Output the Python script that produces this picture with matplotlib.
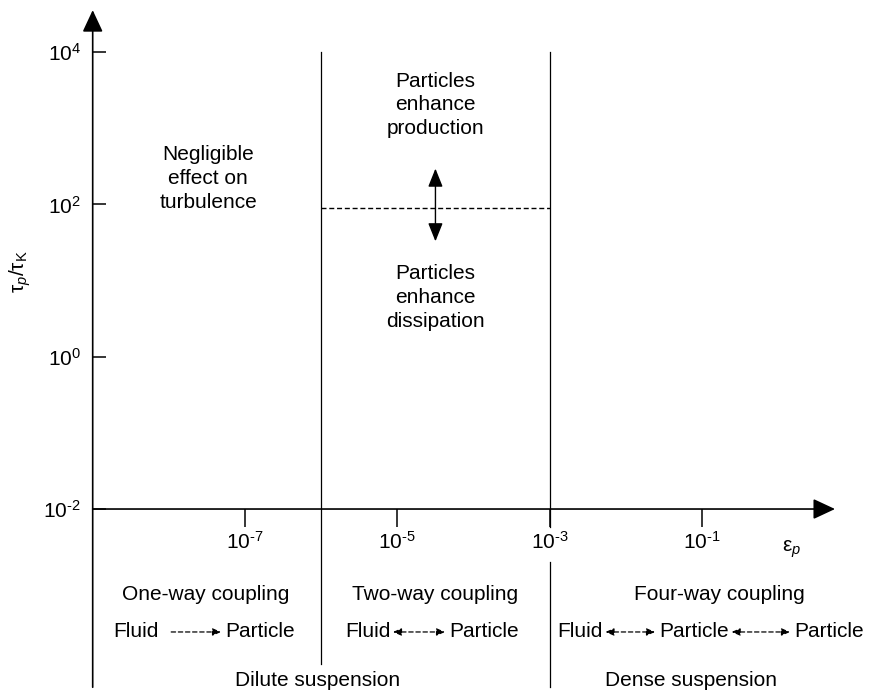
import numpy as np
import matplotlib.pyplot as plt

plt.rcParams['font.family'] = ['Liberation Sans', 'DejaVu Sans']
plt.rcParams['mathtext.fontset'] = 'custom'
plt.rcParams['mathtext.rm'] = 'Liberation Sans'
plt.rcParams['mathtext.it'] = 'Liberation Sans:italic'
plt.rcParams['mathtext.default'] = 'regular'

FS = 15

# everything below is log10 of (eps_p, tau_p/tau_K)
x_lim = (-10.217, 1.376)
y_lim = (-4.468, 4.683)
x_axis = (-9.0, 0.746)      # x axis runs along tau_p/tau_K = 1e-2
y_axis = (-4.34, 4.55)      # y axis runs along eps_p = 1e-9
x_axis_at = -2.0
y_axis_at = -9.0

x_ticks = [-7, -5, -3, -1]
y_ticks = [4, 2, 0, -2]

# regime boundaries: (x, y_top, y_bottom)
boundaries = [(-6, 4, -4.03), (-3, 4, -2.23), (-3, -2.70, -4.34)]

# dashed split in the two-way region and the arrow across it
split_y = 1.954
split_x = (-6, -3)
arrow_x = -4.5
arrow_y = (1.514, 2.47)

region_labels = ["Negligible\neffect on\nturbulence",
                 "Particles\nenhance\nproduction",
                 "Particles\nenhance\ndissipation"]
region_x = [-7.486, -4.5, -4.5]
region_y = [2.34, 3.306, 0.779]

coupling_labels = ["One-way coupling", "Two-way coupling", "Four-way coupling"]
coupling_x = [-7.52, -4.5, -0.77]
coupling_y = -3.188

row_words = [["Fluid", "Particle"], ["Fluid", "Particle"],
             ["Fluid", "Particle", "Particle"]]
row_x = [[-8.431, -6.803], [-5.392, -3.862], [-2.602, -1.105, 0.667]]
row_two_way = [False, True, True]
row_y = -3.674

suspension_labels = ["Dilute suspension", "Dense suspension"]
suspension_x = [-6.05, -1.145]
suspension_y = -4.32

p = lambda v: 10.0 ** np.asarray(v)


def exp_label(t):
    # the original uses a short hyphen in the exponent
    s = str(t).replace('-', '\u2010')
    return '$10^{%s}$' % s


fig = plt.figure(figsize=(8.83, 6.97), dpi=100)
ax = fig.add_axes([0, 0, 1, 1])
ax.set_xscale('log')
ax.set_yscale('log')
ax.set_xlim(p(x_lim[0]), p(x_lim[1]))
ax.set_ylim(p(y_lim[0]), p(y_lim[1]))

for s in ax.spines.values():
    s.set_visible(False)
ax.spines['left'].set_position(('data', p(y_axis_at)))
ax.spines['bottom'].set_position(('data', p(x_axis_at)))

ax.set_xticks(p(x_ticks))
ax.set_xticklabels([exp_label(t) for t in x_ticks])
ax.set_yticks(p(y_ticks))
ax.set_yticklabels([exp_label(t) for t in y_ticks])
ax.minorticks_off()
ax.tick_params(axis='x', direction='out', length=13, width=1.1, pad=3,
               labelsize=FS)
ax.tick_params(axis='y', direction='in', length=9.5, width=1.1, pad=8.5,
               labelsize=FS)

# axes with arrow heads
head = '-|>,head_length=0.9,head_width=0.42'
ax.annotate('', xy=(p(x_axis[1]), p(x_axis_at)), xytext=(p(x_axis[0]), p(x_axis_at)),
            arrowprops=dict(arrowstyle=head, lw=1.2, color='k',
                            shrinkA=0, shrinkB=0, mutation_scale=15))
ax.annotate('', xy=(p(y_axis_at), p(y_axis[1])), xytext=(p(y_axis_at), p(y_axis[0])),
            arrowprops=dict(arrowstyle=head, lw=1.2, color='k',
                            shrinkA=0, shrinkB=0, mutation_scale=15))

for bx, top, bot in boundaries:
    ax.plot([p(bx), p(bx)], [p(top), p(bot)], color='k', lw=0.9)

ax.plot(p(split_x), [p(split_y)] * 2, color='k', lw=1.0, ls=(0, (3.6, 2)))
ax.annotate('', xy=(p(arrow_x), p(arrow_y[1])), xytext=(p(arrow_x), p(arrow_y[0])),
            arrowprops=dict(arrowstyle='<|-|>,head_length=0.75,head_width=0.3',
                            lw=1.0, color='k', shrinkA=0, shrinkB=0,
                            mutation_scale=15))

for lab, x, y in zip(region_labels, region_x, region_y):
    ax.text(p(x), p(y), lab, ha='center', va='center', fontsize=FS,
            linespacing=1.32)

for lab, x in zip(coupling_labels, coupling_x):
    ax.text(p(x), p(coupling_y), lab, ha='center', va='baseline', fontsize=FS)

for words, xs, two in zip(row_words, row_x, row_two_way):
    texts = [ax.text(p(x), p(row_y), w, ha='center', va='baseline', fontsize=FS)
             for w, x in zip(words, xs)]
    style = '<|-|>' if two else '-|>'
    for a, b in zip(texts[:-1], texts[1:]):
        ax.annotate('', xy=(0, 0.45), xycoords=b, xytext=(1, 0.45), textcoords=a,
                    arrowprops=dict(arrowstyle=style + ',head_length=0.5,head_width=0.22',
                                    lw=0.9, color='k', ls=(0, (3.5, 2.2)),
                                    shrinkA=2 if two else 9, shrinkB=3,
                                    mutation_scale=10))

for lab, x in zip(suspension_labels, suspension_x):
    ax.text(p(x), p(suspension_y), lab, ha='center', va='baseline', fontsize=FS)

ax.text(p(0.181), p(-2.558), r'ε$_{\mathit{p}}$', ha='center', va='baseline',
        fontsize=FS)
fig.text(20 / 883, 1 - 272 / 697, r'τ$_{\mathit{p}}$/τ$_{K}$', rotation=90,
         ha='center', va='center', fontsize=FS)

fig.savefig('out.png', dpi=100)
